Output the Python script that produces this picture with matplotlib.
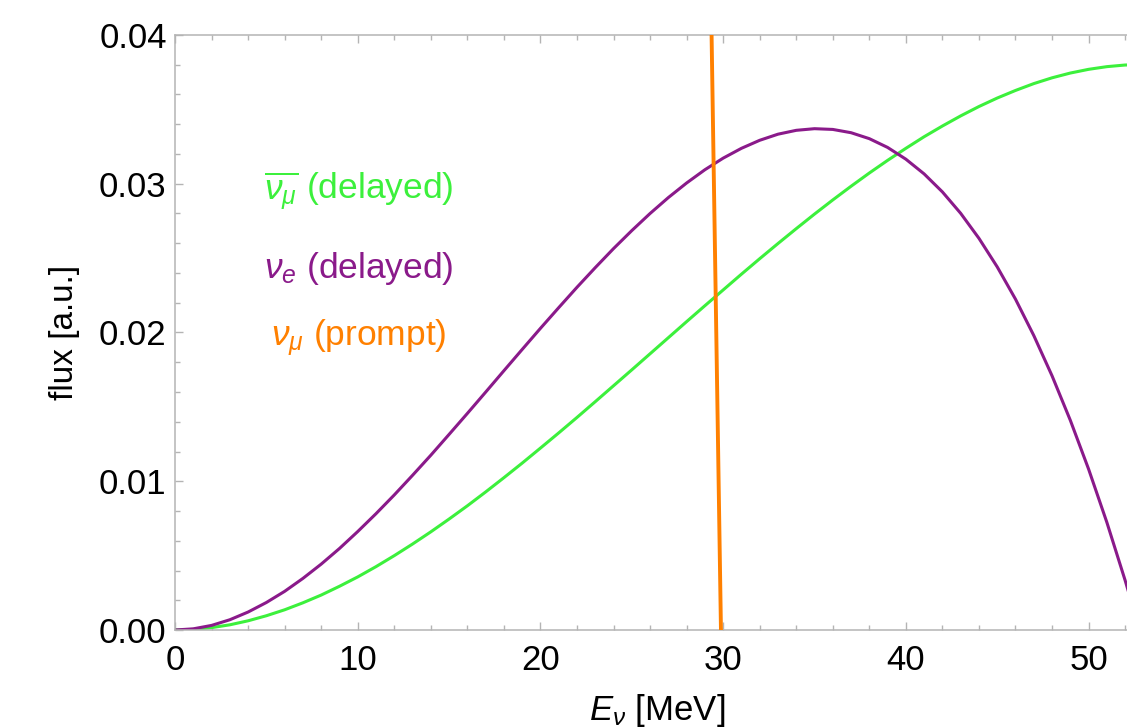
import matplotlib

matplotlib.use("Agg")
import matplotlib.pyplot as plt
from matplotlib.ticker import FormatStrFormatter, MultipleLocator

# neutrino energy grid [MeV] and fluxes
energy = [0, 1, 2, 3, 4, 5, 6, 7, 8, 9, 10, 11, 12, 13, 14, 15, 16, 17, 18,
          19, 20, 21, 22, 23, 24, 25, 26, 27, 28, 29, 30, 31, 32, 33, 34, 35,
          36, 37, 38, 39, 40, 41, 42, 43, 44, 45, 46, 47, 48, 49, 50, 51, 52,
          52.8]
flux_numubar = [0.0, 0.00004, 0.00016, 0.00035, 0.00062, 0.00096, 0.00136,
                0.00183, 0.00235, 0.00294, 0.00357, 0.00426, 0.00500, 0.00578,
                0.00660, 0.00746, 0.00835, 0.00928, 0.01024, 0.01122, 0.01223,
                0.01325, 0.01429, 0.01535, 0.01642, 0.01749, 0.01857, 0.01965,
                0.02073, 0.02180, 0.02286, 0.02392, 0.02496, 0.02598, 0.02698,
                0.02796, 0.02891, 0.02983, 0.03072, 0.03157, 0.03238, 0.03316,
                0.03388, 0.03456, 0.03519, 0.03576, 0.03627, 0.03673, 0.03712,
                0.03744, 0.03769, 0.03787, 0.03798, 0.03800]
flux_nue = [0.0, 0.00008, 0.00031, 0.00069, 0.00121, 0.00185, 0.00260,
            0.00347, 0.00443, 0.00548, 0.00662, 0.00782, 0.00908, 0.01040,
            0.01175, 0.01315, 0.01456, 0.01599, 0.01743, 0.01886, 0.02028,
            0.02167, 0.02304, 0.02436, 0.02564, 0.02685, 0.02800, 0.02907,
            0.03005, 0.03094, 0.03172, 0.03238, 0.03292, 0.03333, 0.03359,
            0.03370, 0.03365, 0.03343, 0.03303, 0.03244, 0.03165, 0.03066,
            0.02945, 0.02801, 0.02633, 0.02441, 0.02224, 0.01980, 0.01709,
            0.01410, 0.01082, 0.00724, 0.00334, 0.0]
# prompt line (nearly vertical spike at ~29.8 MeV)
energy_prompt = [29.88, 29.36]
flux_prompt = [0.0, 0.0405]

labels = [r"$\overline{\nu_\mu}$ (delayed)", r"$\nu_e$ (delayed)", r"$\nu_\mu$ (prompt)"]
label_y = [0.737, 0.608, 0.491]

GREEN = "#3cf03c"
PURPLE = "#8a1a8a"
ORANGE = "#ff8000"
FRAME = "#b4b4b4"

plt.rcParams["font.family"] = ["Liberation Sans", "DejaVu Sans"]
plt.rcParams["mathtext.fontset"] = "custom"
plt.rcParams["mathtext.rm"] = "Liberation Sans"
plt.rcParams["mathtext.it"] = "Liberation Sans:italic"

fig = plt.figure(figsize=(11.27, 7.27), dpi=100)
# axes runs a little past the right edge, the reference is cropped there
ax = fig.add_axes([0.1553, 0.1334, 0.8560, 0.8185])

ax.plot(energy, flux_numubar, color=GREEN, lw=2.2, zorder=2)
ax.plot(energy, flux_nue, color=PURPLE, lw=2.2, zorder=2)
ax.plot(energy_prompt, flux_prompt, color=ORANGE, lw=2.8, zorder=3)

ax.set_xlim(0, 52.8)
ax.set_ylim(0, 0.04)

ax.xaxis.set_major_locator(MultipleLocator(10))
ax.xaxis.set_minor_locator(MultipleLocator(2))
ax.yaxis.set_major_locator(MultipleLocator(0.01))
ax.yaxis.set_minor_locator(MultipleLocator(0.002))
ax.yaxis.set_major_formatter(FormatStrFormatter("%.2f"))

for side in ax.spines.values():
    side.set_color(FRAME)
    side.set_linewidth(1.1)

ax.tick_params(which="both", direction="in", top=True, right=False,
               color=FRAME, width=1.0, labelsize=25, labelcolor="black")
ax.tick_params(which="major", length=6)
ax.tick_params(which="minor", length=3.5)
ax.tick_params(axis="x", which="major", pad=10)
ax.tick_params(axis="y", which="major", pad=6)

ax.set_ylabel("flux [a.u.]", fontsize=24, labelpad=14)
ax.set_xlabel(r"$E_\nu$ [MeV]", fontsize=25, labelpad=11)

for text, yy, col in zip(labels, label_y, [GREEN, PURPLE, ORANGE]):
    ax.text(0.190, yy, text, color=col, fontsize=25.5, ha="center", va="center",
            transform=ax.transAxes)

fig.savefig("out.png", dpi=100)
plt.close(fig)
